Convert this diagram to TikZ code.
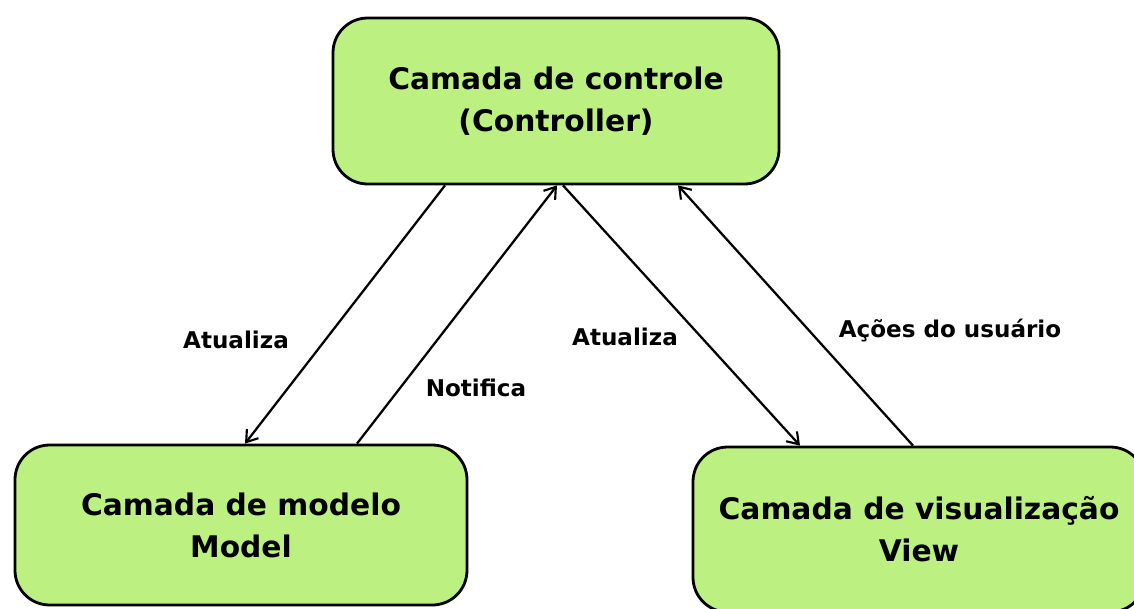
\documentclass[tikz,border=0pt]{standalone}
\usepackage{fontspec}
\setmainfont{DejaVu Sans}
\usetikzlibrary{arrows.meta}
\definecolor{boxgreen}{RGB}{188,240,128}
\tikzset{
  layer/.style={draw=black, line width=2.1pt, fill=boxgreen, rounded corners=26pt,
    align=center, font=\bfseries\fontsize{22.3}{31.5}\selectfont, inner sep=0pt},
  conn/.style={line width=1.7pt, -{Straight Barb[length=8pt,width=11pt,line width=1.6pt]}},
  lbl/.style={font=\bfseries\fontsize{17.3}{20}\selectfont, inner sep=0pt}
}
\begin{document}
\begin{tikzpicture}[x=0.75pt,y=-0.75pt]
\useasboundingbox (0,0) rectangle (1134,608);
\fill[white] (0,0) rectangle (1134,608);
\node[layer, minimum width=334.5pt, minimum height=124.5pt] (ctrl) at (556,101)
  {Camada de controle\\(Controller)};
\node[layer, minimum width=339pt, minimum height=120pt] (model) at (241,525)
  {Camada de modelo\\Model};
\node[layer, minimum width=339pt, minimum height=123.75pt] (view) at (919,529.5)
  {Camada de visualização\\View};
\draw[conn] ([xshift=-83.25pt]ctrl.south) -- ([xshift=3pt]model.north);
\draw[conn] ([xshift=87pt]model.north) -- ([xshift=0.75pt]ctrl.south);
\draw[conn] ([xshift=5.25pt]ctrl.south) -- ([xshift=-89.25pt]view.north);
\draw[conn] ([xshift=-4.5pt]view.north) -- ([xshift=91.5pt]ctrl.south);
\node[lbl] (l1) at (236,340) {Atualiza};
\node[lbl] (l2) at (476,388) {Notifica};
\node[lbl] (l3) at (625,337) {Atualiza};
\node[lbl] (l4) at (950,331) {Ações do usuário};
\end{tikzpicture}
\end{document}
